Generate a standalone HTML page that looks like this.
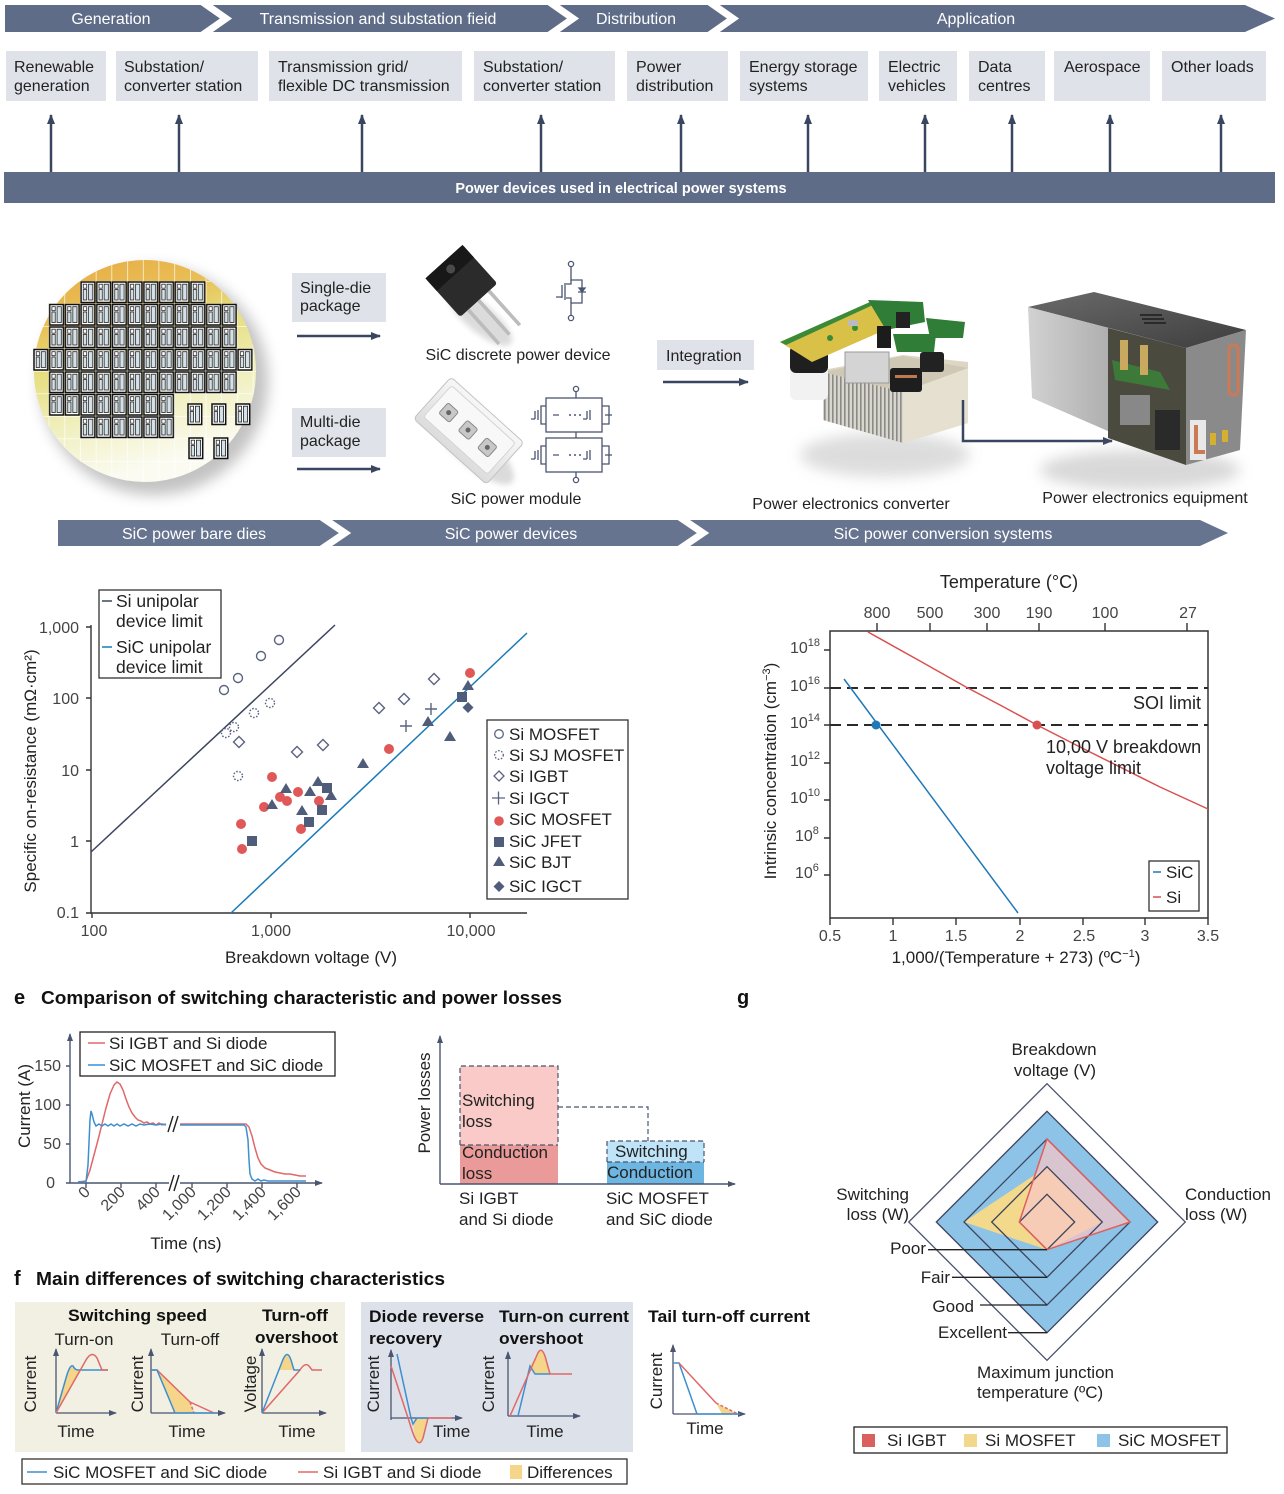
<!DOCTYPE html>
<html><head><meta charset="utf-8">
<style>
html,body{margin:0;padding:0;background:#fff;width:1284px;height:1494px;overflow:hidden}
svg{display:block}
text{font-family:"Liberation Sans",sans-serif;}
</style></head><body>
<svg width="1284" height="1494" viewBox="0 0 1284 1494" xmlns="http://www.w3.org/2000/svg">
<defs>
<marker id="ah" markerUnits="userSpaceOnUse" markerWidth="10" markerHeight="10" refX="9" refY="5" orient="auto"><path d="M0,1 L10,5 L0,9 z" fill="#3a4660"/></marker>
<marker id="as" markerUnits="userSpaceOnUse" markerWidth="8" markerHeight="8" refX="7" refY="4" orient="auto"><path d="M0,1 L8,4 L0,7 z" fill="#4a5570"/></marker>
<filter id="blur6" x="-30%" y="-30%" width="160%" height="160%"><feGaussianBlur stdDeviation="7"/></filter>
<filter id="blur3" x="-30%" y="-30%" width="160%" height="160%"><feGaussianBlur stdDeviation="3"/></filter>
<linearGradient id="wg" x1="0" y1="0" x2="0.3" y2="1">
 <stop offset="0" stop-color="#e7a843"/>
 <stop offset="0.28" stop-color="#e9bf55"/>
 <stop offset="0.45" stop-color="#e5dc78"/>
 <stop offset="0.7" stop-color="#efeeb8"/>
 <stop offset="1" stop-color="#fbfbf2"/>
</linearGradient>
<linearGradient id="eqL" x1="0" y1="0" x2="1" y2="0">
 <stop offset="0" stop-color="#d2d2d2"/><stop offset="1" stop-color="#8e8e8e"/>
</linearGradient>
<linearGradient id="eqT" x1="0" y1="0" x2="1" y2="1">
 <stop offset="0" stop-color="#6a6a6a"/><stop offset="1" stop-color="#3e3e3e"/>
</linearGradient>
<linearGradient id="modG" x1="0" y1="0" x2="0" y2="1">
 <stop offset="0" stop-color="#f7f7f7"/><stop offset="1" stop-color="#dcdcdc"/>
</linearGradient>
<clipPath id="wc"><circle cx="145" cy="371" r="111"/></clipPath>
<pattern id="gridp" x="33" y="281" width="15.7" height="22.5" patternUnits="userSpaceOnUse"><path d="M0,0 H15.7 M0,0 V22.5" stroke="#fff" stroke-width="1.3" fill="none"/></pattern>
<g id="die">
 <rect x="1" y="1" width="13.7" height="20.5" fill="#fff" stroke="#111" stroke-width="1.5"/>
 <rect x="3.2" y="3.2" width="3.4" height="4" fill="#fff" stroke="#222" stroke-width="0.8"/>
 <rect x="3.2" y="8.5" width="3.4" height="10.5" fill="#d3e2e8" stroke="#222" stroke-width="0.8"/>
 <rect x="8.4" y="3.2" width="4.2" height="15.8" fill="#d3e2e8" stroke="#222" stroke-width="0.8"/>
</g>
<pattern id="diep" x="33" y="281" width="15.7" height="22.5" patternUnits="userSpaceOnUse"><use href="#die"/></pattern>
<pattern id="fins" x="0" y="0" width="4" height="10" patternUnits="userSpaceOnUse"><rect width="4" height="10" fill="#d9d6cf"/><rect width="1.6" height="10" fill="#8c8a86"/></pattern>
</defs>

<!-- ========== TOP BANNER ========== -->
<polygon points="5,5 1245,5 1275,18.5 1245,32 5,32" fill="#5e6c88"/>
<polyline points="201,1 226,18.5 201,36" fill="none" stroke="#fff" stroke-width="7"/>
<polyline points="548,1 573,18.5 548,36" fill="none" stroke="#fff" stroke-width="7"/>
<polyline points="708,1 733,18.5 708,36" fill="none" stroke="#fff" stroke-width="7"/>
<g fill="#fff" font-size="16" text-anchor="middle">
<text x="111" y="24">Generation</text>
<text x="378" y="24">Transmission and substation fieid</text>
<text x="636" y="24">Distribution</text>
<text x="976" y="24">Application</text>
</g>

<g fill="#dfe2e9">
<rect x="6" y="51" width="100" height="50"/>
<rect x="116" y="51" width="142" height="50"/>
<rect x="269" y="51" width="193" height="50"/>
<rect x="474" y="51" width="141" height="50"/>
<rect x="627" y="51" width="101" height="50"/>
<rect x="740" y="51" width="128" height="50"/>
<rect x="879" y="51" width="78" height="50"/>
<rect x="969" y="51" width="76" height="50"/>
<rect x="1054" y="51" width="96" height="50"/>
<rect x="1162" y="51" width="104" height="50"/>
</g>
<g fill="#222" font-size="16">
<text x="14" y="72">Renewable</text><text x="14" y="91">generation</text>
<text x="124" y="72">Substation/</text><text x="124" y="91">converter station</text>
<text x="278" y="72">Transmission grid/</text><text x="278" y="91">flexible DC transmission</text>
<text x="483" y="72">Substation/</text><text x="483" y="91">converter station</text>
<text x="636" y="72">Power</text><text x="636" y="91">distribution</text>
<text x="749" y="72">Energy storage</text><text x="749" y="91">systems</text>
<text x="888" y="72">Electric</text><text x="888" y="91">vehicles</text>
<text x="978" y="72">Data</text><text x="978" y="91">centres</text>
<text x="1064" y="72">Aerospace</text>
<text x="1171" y="72">Other loads</text>
</g>
<g stroke="#3a4660" stroke-width="2.5" marker-end="url(#ah)">
<line x1="51" y1="172" x2="51" y2="115"/>
<line x1="179" y1="172" x2="179" y2="115"/>
<line x1="362" y1="172" x2="362" y2="115"/>
<line x1="541" y1="172" x2="541" y2="115"/>
<line x1="681" y1="172" x2="681" y2="115"/>
<line x1="808" y1="172" x2="808" y2="115"/>
<line x1="925" y1="172" x2="925" y2="115"/>
<line x1="1012" y1="172" x2="1012" y2="115"/>
<line x1="1110" y1="172" x2="1110" y2="115"/>
<line x1="1221" y1="172" x2="1221" y2="115"/>
</g>
<rect x="4" y="172" width="1271" height="31" fill="#5e6c88"/>
<text x="621" y="193" fill="#fff" font-size="14.5" font-weight="bold" text-anchor="middle">Power devices used in electrical power systems</text>

<!-- ========== MIDDLE: WAFER ========== -->
<circle cx="154" cy="381" r="114" fill="#7a7a7a" opacity="0.45" filter="url(#blur6)"/>
<circle cx="145" cy="371" r="111" fill="url(#wg)"/>
<rect x="30" y="258" width="232" height="230" fill="url(#gridp)" clip-path="url(#wc)"/>
<g fill="url(#diep)">
<rect x="80.1" y="281" width="125.6" height="22.5"/>
<rect x="48.7" y="303.5" width="188.4" height="22.5"/>
<rect x="48.7" y="326" width="188.4" height="22.5"/>
<rect x="33" y="348.5" width="219.8" height="22.5"/>
<rect x="48.7" y="371" width="188.4" height="22.5"/>
<rect x="48.7" y="393.5" width="125.6" height="22.5"/>
<rect x="80.1" y="416" width="94.2" height="22.5"/>
</g>
<use href="#die" x="187" y="403"/><use href="#die" x="211" y="403"/><use href="#die" x="235" y="403"/>
<use href="#die" x="188" y="437"/><use href="#die" x="213" y="437"/>

<!-- package boxes -->
<rect x="292" y="273" width="94" height="49" fill="#dfe2e9"/>
<text x="300" y="293" font-size="16" fill="#222">Single-die</text>
<text x="300" y="311" font-size="16" fill="#222">package</text>
<line x1="297" y1="336" x2="380" y2="336" stroke="#3a4660" stroke-width="2.5" marker-end="url(#ah)"/>
<rect x="292" y="408" width="94" height="49" fill="#dfe2e9"/>
<text x="300" y="427" font-size="16" fill="#222">Multi-die</text>
<text x="300" y="446" font-size="16" fill="#222">package</text>
<line x1="297" y1="469" x2="380" y2="469" stroke="#3a4660" stroke-width="2.5" marker-end="url(#ah)"/>

<!-- discrete device -->
<ellipse cx="480" cy="318" rx="40" ry="14" fill="#999" opacity="0.35" filter="url(#blur3)" transform="rotate(40 480 318)"/>
<g transform="rotate(-42 470 292)">
 <rect x="446" y="252" width="50" height="52" rx="3" fill="#2b2b2b"/>
 <rect x="446" y="252" width="50" height="17" fill="#181818"/>
 <circle cx="471" cy="262" r="4.5" fill="#4a4a4a"/>
 <rect x="455" y="304" width="3.6" height="46" fill="#bcbcbc"/>
 <rect x="469" y="304" width="3.6" height="46" fill="#bcbcbc"/>
 <rect x="483" y="304" width="3.6" height="46" fill="#bcbcbc"/>
</g>
<!-- discrete circuit symbol -->
<g stroke="#4a5570" stroke-width="1.3" fill="none">
 <circle cx="571" cy="264" r="2.6" fill="#fff"/>
 <circle cx="571" cy="318" r="2.6" fill="#fff"/>
 <path d="M571,267 V280 H582 V303 H571 V315"/>
 <path d="M571,280 V284 H566 M571,303 V298 H566 M565,283 V300 M562,285 V298 M556,297 H562"/>
 <path d="M578,292 H586 M582,292 L579,288 H585 Z" fill="#4a5570"/>
</g>
<text x="518" y="360" font-size="16" text-anchor="middle" fill="#222">SiC discrete power device</text>

<!-- power module -->
<ellipse cx="472" cy="446" rx="54" ry="18" fill="#999" opacity="0.35" filter="url(#blur3)" transform="rotate(42 472 446)"/>
<g transform="rotate(42 468 430)">
 <rect x="420" y="402" width="98" height="56" rx="4" fill="url(#modG)" stroke="#c2c2c2"/>
 <rect x="426" y="408" width="86" height="42" rx="3" fill="#f8f8f8" stroke="#d4d4d4"/>
 <rect x="435" y="423" width="14" height="14" rx="2" fill="#c8c8c8" stroke="#8a8a8a"/>
 <rect x="461" y="423" width="14" height="14" rx="2" fill="#c8c8c8" stroke="#8a8a8a"/>
 <rect x="487" y="423" width="14" height="14" rx="2" fill="#c8c8c8" stroke="#8a8a8a"/>
 <circle cx="442" cy="430" r="2.5" fill="#666"/><circle cx="468" cy="430" r="2.5" fill="#666"/><circle cx="494" cy="430" r="2.5" fill="#666"/>
</g>
<!-- module circuit -->
<g stroke="#4a5570" stroke-width="1.3" fill="none">
 <circle cx="576" cy="389" r="2.6" fill="#fff"/>
 <circle cx="576" cy="480" r="2.6" fill="#fff"/>
 <path d="M576,392 V398 M576,432 V438 M576,472 V477"/>
 <rect x="546" y="398" width="56" height="34"/>
 <rect x="546" y="438" width="56" height="34"/>
 <path d="M546,406 H541 V424 H546 M602,406 H609 V424 H602 M546,446 H541 V464 H546 M602,446 H609 V464 H602"/>
 <path d="M538,410 V420 M535,411 V419 M531,419 H535 M590,410 V420 M587,411 V419 M583,419 H587 M538,450 V460 M535,451 V459 M531,459 H535 M590,450 V460 M587,451 V459 M583,459 H587"/>
 <path d="M553,415 H559 M605,415 H612 M553,455 H559 M605,455 H612"/>
</g>
<g fill="#4a5570"><circle cx="570" cy="415" r="1"/><circle cx="575" cy="415" r="1"/><circle cx="580" cy="415" r="1"/><circle cx="570" cy="455" r="1"/><circle cx="575" cy="455" r="1"/><circle cx="580" cy="455" r="1"/></g>
<text x="516" y="504" font-size="16" text-anchor="middle" fill="#222">SiC power module</text>

<!-- integration -->
<rect x="657" y="340" width="97" height="30" fill="#dfe2e9"/>
<text x="666" y="361" font-size="16" fill="#222">Integration</text>
<line x1="663" y1="382" x2="748" y2="382" stroke="#3a4660" stroke-width="2.5" marker-end="url(#ah)"/>

<!-- converter -->
<ellipse cx="885" cy="455" rx="85" ry="22" fill="#aaa" opacity="0.4" filter="url(#blur6)"/>
<polygon points="823,370 903,355 968,362 968,423 903,443 823,420" fill="#ddd6c4"/>
<polygon points="823,372 903,392 903,443 823,420" fill="url(#fins)"/>
<polygon points="903,392 968,368 968,423 903,443" fill="#e6e0d0"/>
<polygon points="823,372 903,392 968,368 903,356" fill="#cfc8b4"/>
<rect x="790" y="345" width="38" height="55" rx="6" fill="#f2f2f2"/>
<rect x="790" y="345" width="38" height="28" rx="6" fill="#1f1f1f"/>
<rect x="845" y="352" width="44" height="31" fill="#d4d4d4" stroke="#9a9a9a"/>
<rect x="890" y="368" width="32" height="24" rx="3" fill="#1e1e1e"/>
<rect x="920" y="352" width="24" height="20" rx="3" fill="#222"/>
<rect x="895" y="375" width="22" height="3" fill="#c07850"/>
<polygon points="780,342 870,302 905,312 903,322 812,362" fill="#d9c046"/>
<polygon points="780,342 870,302 875,304 786,345" fill="#3a8a3a"/>
<polygon points="868,300 923,302 925,322 886,330" fill="#2f7d36"/>
<polygon points="926,318 965,322 963,338 930,338" fill="#2f7d36"/>
<polygon points="893,334 936,334 934,352 897,352" fill="#2f7d36"/>
<rect x="877" y="326" width="14" height="22" fill="#1c1c1c"/>
<rect x="896" y="312" width="14" height="16" fill="#222"/>
<circle cx="830" cy="338" r="3" fill="#3a8a3a"/><circle cx="855" cy="328" r="3" fill="#3a8a3a"/>
<rect x="848" y="320" width="10" height="6" fill="#bbb"/>
<path d="M963,400 V441 H1112" fill="none" stroke="#3a4660" stroke-width="2.5" marker-end="url(#ah)"/>
<text x="851" y="509" font-size="16" text-anchor="middle" fill="#222">Power electronics converter</text>

<!-- equipment -->
<ellipse cx="1140" cy="470" rx="100" ry="20" fill="#aaa" opacity="0.45" filter="url(#blur6)"/>
<polygon points="1028,307 1094,292 1246,330 1186,348" fill="url(#eqT)"/>
<polygon points="1028,307 1186,348 1186,465 1032,398" fill="url(#eqL)"/>
<polygon points="1108,328 1186,348 1186,465 1108,438" fill="#4a4a3e"/>
<polygon points="1112,360 1160,372 1170,390 1115,380" fill="#3d7a3a"/>
<rect x="1120" y="340" width="8" height="30" fill="#c9a860"/><rect x="1140" y="345" width="8" height="30" fill="#c9a860"/>
<rect x="1120" y="395" width="30" height="30" fill="#888"/>
<rect x="1155" y="410" width="25" height="40" fill="#2a2a2a"/>
<polygon points="1186,348 1246,330 1240,450 1186,465" fill="#8a8a8a"/>
<rect x="1229" y="345" width="9" height="50" rx="4" fill="none" stroke="#cc7a55" stroke-width="3"/>
<rect x="1190" y="420" width="16" height="40" fill="#e8e8e8"/>
<path d="M1196,425 V452 H1205" stroke="#cc7a55" stroke-width="4" fill="none"/>
<rect x="1210" y="433" width="6" height="12" fill="#d4b030"/><rect x="1222" y="430" width="6" height="12" fill="#d4b030"/>
<g fill="#2a2a2a"><rect x="1140" y="314" width="22" height="2"/><rect x="1142" y="318" width="22" height="2"/><rect x="1144" y="322" width="22" height="2"/></g>
<text x="1145" y="503" font-size="16" text-anchor="middle" fill="#222">Power electronics equipment</text>

<!-- bottom banner of middle -->
<polygon points="58,520 1200,520 1228,533 1200,546 58,546" fill="#67748f"/>
<polyline points="320,516 345,533 320,550" fill="none" stroke="#fff" stroke-width="7"/>
<polyline points="678,516 703,533 678,550" fill="none" stroke="#fff" stroke-width="7"/>
<g fill="#fff" font-size="16" text-anchor="middle">
<text x="194" y="539">SiC power bare dies</text>
<text x="511" y="539">SiC power devices</text>
<text x="943" y="539">SiC power conversion systems</text>
</g>

<!-- ========== CHART C ========== -->
<g stroke="#333" stroke-width="1.4" fill="none">
<path d="M91,625 V913 H527"/>
<path d="M86,627 H91 M86,698 H91 M86,770 H91 M86,841 H91 M86,913 H91"/>
<path d="M92,913 V918 M271,913 V918 M470,913 V918"/>
</g>
<g font-size="16" fill="#444" text-anchor="end">
<text x="79" y="633">1,000</text>
<text x="79" y="704">100</text>
<text x="79" y="776">10</text>
<text x="79" y="847">1</text>
<text x="79" y="918">0.1</text>
</g>
<g font-size="16" fill="#444" text-anchor="middle">
<text x="94" y="936">100</text>
<text x="271" y="936">1,000</text>
<text x="471" y="936">10,000</text>
</g>
<text x="311" y="963" font-size="17" fill="#222" text-anchor="middle">Breakdown voltage (V)</text>
<text transform="translate(36,771) rotate(-90)" font-size="17" fill="#222" text-anchor="middle">Specific on-resistance (mΩ·cm²)</text>
<line x1="91" y1="852" x2="335" y2="625" stroke="#3d4660" stroke-width="1.5"/>
<line x1="231" y1="913" x2="527" y2="633" stroke="#1a7ab8" stroke-width="1.5"/>
<!-- markers -->
<g fill="#fff" stroke="#5a6480" stroke-width="1.4">
<circle cx="224" cy="690" r="4.5"/><circle cx="238" cy="678" r="4.5"/><circle cx="261" cy="656" r="4.5"/><circle cx="279" cy="640" r="4.5"/>
</g>
<g fill="#fff" stroke="#5a6480" stroke-width="1.4" stroke-dasharray="1.6 1.6">
<circle cx="226" cy="733" r="4.5"/><circle cx="234" cy="727" r="4.5"/><circle cx="254" cy="713" r="4.5"/><circle cx="270" cy="703" r="4.5"/><circle cx="238" cy="776" r="4.5"/>
</g>
<g fill="#fff" stroke="#5a6480" stroke-width="1.4">
<path d="M239,736.5 l5.5,5.5 -5.5,5.5 -5.5,-5.5z"/>
<path d="M297,746.5 l5.5,5.5 -5.5,5.5 -5.5,-5.5z"/>
<path d="M323,739.5 l5.5,5.5 -5.5,5.5 -5.5,-5.5z"/>
<path d="M379,702.5 l5.5,5.5 -5.5,5.5 -5.5,-5.5z"/>
<path d="M404,693.5 l5.5,5.5 -5.5,5.5 -5.5,-5.5z"/>
<path d="M434,673.5 l5.5,5.5 -5.5,5.5 -5.5,-5.5z"/>
</g>
<g stroke="#5a6480" stroke-width="1.4">
<path d="M400,726 h12 M406,720 v12"/>
<path d="M425,709 h12 M431,703 v12"/>
</g>
<g fill="#e05858">
<circle cx="470" cy="673" r="5"/><circle cx="389" cy="749" r="5"/><circle cx="272" cy="777" r="5"/><circle cx="264" cy="807" r="5"/><circle cx="241" cy="824" r="5"/><circle cx="242" cy="849" r="5"/><circle cx="280" cy="797" r="5"/><circle cx="287" cy="801" r="5"/><circle cx="298" cy="792" r="5"/><circle cx="301" cy="829" r="5"/><circle cx="319" cy="801" r="5"/>
</g>
<g fill="#4f5c7a">
<rect x="247" y="836" width="10" height="10"/><rect x="304" y="817" width="10" height="10"/><rect x="317" y="805" width="10" height="10"/><rect x="322" y="783" width="10" height="10"/><rect x="457" y="692" width="10" height="10"/>
<path d="M272,799 l6,10 h-12z"/><path d="M286,783 l6,10 h-12z"/><path d="M302,805 l6,10 h-12z"/><path d="M310,786 l6,10 h-12z"/><path d="M318,776 l6,10 h-12z"/><path d="M331,790 l6,10 h-12z"/><path d="M363,758 l6,10 h-12z"/><path d="M428,716 l6,10 h-12z"/><path d="M450,731 l6,10 h-12z"/><path d="M468,680 l6,10 h-12z"/>
<path d="M468,702 l5.5,5.5 -5.5,5.5 -5.5,-5.5z"/>
</g>
<!-- legend 1 -->
<rect x="99" y="590" width="122" height="88" fill="#fff" stroke="#333" stroke-width="1.3"/>
<line x1="102" y1="601" x2="112" y2="601" stroke="#3d4660" stroke-width="1.5"/>
<line x1="102" y1="647" x2="112" y2="647" stroke="#1a7ab8" stroke-width="1.5"/>
<g font-size="17.5" fill="#222">
<text x="116" y="607">Si unipolar</text><text x="116" y="627">device limit</text>
<text x="116" y="653">SiC unipolar</text><text x="116" y="673">device limit</text>
</g>
<!-- legend 2 -->
<rect x="487" y="720" width="141" height="179" fill="#fff" stroke="#333" stroke-width="1.3"/>
<circle cx="499" cy="734" r="4.3" fill="#fff" stroke="#5a6480" stroke-width="1.3"/>
<circle cx="499" cy="755" r="4.3" fill="#fff" stroke="#5a6480" stroke-width="1.3" stroke-dasharray="1.6 1.6"/>
<path d="M499,771 l5,5 -5,5 -5,-5z" fill="#fff" stroke="#5a6480" stroke-width="1.3"/>
<path d="M492,798 h13 M498.5,791.5 v13" stroke="#5a6480" stroke-width="1.3"/>
<circle cx="499" cy="821" r="4.8" fill="#e05858"/>
<rect x="494" y="837" width="10" height="10" fill="#4f5c7a"/>
<path d="M499,856 l6,10 h-12z" fill="#4f5c7a"/>
<path d="M499,881 l5.5,5.5 -5.5,5.5 -5.5,-5.5z" fill="#4f5c7a"/>
<g font-size="17" fill="#222">
<text x="509" y="740">Si MOSFET</text>
<text x="509" y="761">Si SJ MOSFET</text>
<text x="509" y="782">Si IGBT</text>
<text x="509" y="804">Si IGCT</text>
<text x="509" y="825">SiC MOSFET</text>
<text x="509" y="847">SiC JFET</text>
<text x="509" y="868">SiC BJT</text>
<text x="509" y="892">SiC IGCT</text>
</g>

<!-- ========== CHART D ========== -->
<text x="1009" y="588" font-size="18" fill="#222" text-anchor="middle">Temperature (°C)</text>
<rect x="830" y="631" width="378" height="287" fill="none" stroke="#333" stroke-width="1.5"/>
<g stroke="#333" stroke-width="1.4">
<path d="M824,650 H830 M824,688 H830 M824,725 H830 M824,763 H830 M824,800 H830 M824,838 H830 M824,875 H830"/>
<path d="M877,623 V631 M930,623 V631 M987,623 V631 M1039,623 V631 M1105,623 V631 M1187,623 V631"/>
<path d="M830,918 V925 M893,918 V925 M956,918 V925 M1020,918 V925 M1083,918 V925 M1145,918 V925 M1208,918 V925"/>
</g>
<g font-size="16" fill="#444" text-anchor="middle">
<text x="877" y="618">800</text><text x="930" y="618">500</text><text x="987" y="618">300</text><text x="1039" y="618">190</text><text x="1105" y="618">100</text><text x="1188" y="618">27</text>
<text x="830" y="941">0.5</text><text x="893" y="941">1</text><text x="956" y="941">1.5</text><text x="1020" y="941">2</text><text x="1084" y="941">2.5</text><text x="1145" y="941">3</text><text x="1208" y="941">3.5</text>
</g>
<g font-size="16" fill="#444">
<text x="790" y="653">10<tspan font-size="11" dy="-7">18</tspan></text>
<text x="790" y="691">10<tspan font-size="11" dy="-7">16</tspan></text>
<text x="790" y="728">10<tspan font-size="11" dy="-7">14</tspan></text>
<text x="790" y="766">10<tspan font-size="11" dy="-7">12</tspan></text>
<text x="790" y="803">10<tspan font-size="11" dy="-7">10</tspan></text>
<text x="795" y="841">10<tspan font-size="11" dy="-7">8</tspan></text>
<text x="795" y="878">10<tspan font-size="11" dy="-7">6</tspan></text>
</g>
<text transform="translate(776,771) rotate(-90)" font-size="17" fill="#222" text-anchor="middle">Intrinsic concentration (cm<tspan font-size="11" dy="-6">−3</tspan><tspan dy="6">)</tspan></text>
<text x="1016" y="963" font-size="17" fill="#222" text-anchor="middle">1,000/(Temperature + 273) (ºC<tspan font-size="11" dy="-6">−1</tspan><tspan dy="6">)</tspan></text>
<g stroke="#2a2a2a" stroke-width="2" stroke-dasharray="11 6">
<line x1="830" y1="688" x2="1208" y2="688"/>
<line x1="830" y1="725" x2="1208" y2="725"/>
</g>
<polyline points="868,632 920,661 966,687 1000,705 1037,725 1080,747 1120,767 1160,787 1208,809" fill="none" stroke="#d95050" stroke-width="1.5"/>
<line x1="844" y1="679" x2="1018" y2="913" stroke="#1f78b8" stroke-width="1.5"/>
<circle cx="1037" cy="725" r="4.5" fill="#d95050"/>
<circle cx="876" cy="725" r="4.5" fill="#1f78b8"/>
<g font-size="18" fill="#222">
<text x="1201" y="709" text-anchor="end">SOI limit</text>
<text x="1046" y="753">10,00 V breakdown</text>
<text x="1046" y="774">voltage limit</text>
</g>
<rect x="1149" y="861" width="50" height="50" fill="#fff" stroke="#333" stroke-width="1.3"/>
<line x1="1153" y1="872" x2="1161" y2="872" stroke="#1f78b8" stroke-width="1.5"/>
<line x1="1153" y1="897" x2="1161" y2="897" stroke="#d95050" stroke-width="1.5"/>
<text x="1166" y="878" font-size="17" fill="#222">SiC</text>
<text x="1166" y="903" font-size="17" fill="#222">Si</text>

<!-- ========== SECTION E ========== -->
<text x="14" y="1004" font-size="20" font-weight="bold" fill="#111">e</text>
<text x="41" y="1004" font-size="18" font-weight="bold" fill="#111" textLength="521" lengthAdjust="spacingAndGlyphs">Comparison of switching characteristic and power losses</text>
<text x="737" y="1004" font-size="20" font-weight="bold" fill="#111">g</text>

<!-- e1 -->
<g stroke="#4a5570" stroke-width="1.4" fill="none">
<line x1="70" y1="1183" x2="70" y2="1034" marker-end="url(#as)"/>
<line x1="70" y1="1183" x2="169" y2="1183"/>
<line x1="180" y1="1183" x2="322" y2="1183" marker-end="url(#as)"/>
<path d="M66,1066 H70 M66,1105 H70 M66,1144 H70 M66,1183 H70"/>
<path d="M86,1183 V1188 M121,1183 V1188 M156,1183 V1188 M192,1183 V1188 M227,1183 V1188 M262,1183 V1188 M297,1183 V1188"/>
</g>
<g stroke="#222" stroke-width="1.4">
<path d="M169,1191 L174,1175 M174,1191 L179,1175"/>
<path d="M168,1132 L173,1116 M173,1132 L178,1116"/>
</g>
<g font-size="16" fill="#444" text-anchor="end">
<text x="61" y="1071">150</text><text x="61" y="1110">100</text><text x="61" y="1149">50</text><text x="55" y="1188">0</text>
</g>
<g font-size="16" fill="#444" text-anchor="end">
<text transform="translate(91,1193) rotate(-45)">0</text>
<text transform="translate(126,1193) rotate(-45)">200</text>
<text transform="translate(161,1193) rotate(-45)">400</text>
<text transform="translate(197,1193) rotate(-45)">1,000</text>
<text transform="translate(232,1193) rotate(-45)">1,200</text>
<text transform="translate(267,1193) rotate(-45)">1,400</text>
<text transform="translate(302,1193) rotate(-45)">1,600</text>
</g>
<text x="186" y="1249" font-size="17" fill="#222" text-anchor="middle">Time (ns)</text>
<text transform="translate(30,1106) rotate(-90)" font-size="17" fill="#222" text-anchor="middle">Current (A)</text>
<polyline fill="none" stroke="#e06868" stroke-width="1.5" points="78,1182 86,1181 90,1170 94,1155 98,1140 102,1124 106,1108 110,1094 114,1085 117,1082 120,1084 123,1090 126,1099 129,1107 132,1113 135,1117 138,1120 141,1121 144,1123 147,1122 150,1124 153,1123 156,1125 159,1123 162,1125 166,1124"/>
<polyline fill="none" stroke="#e06868" stroke-width="1.5" points="180,1124 246,1124 249,1127 252,1136 255,1148 258,1158 261,1164 265,1168 270,1170 275,1172 280,1173 285,1174 290,1174 295,1175 300,1176 306,1176"/>
<polyline fill="none" stroke="#3d8fd0" stroke-width="1.5" points="78,1182 86,1182 88,1165 90,1120 91,1111 92,1114 94,1122 96,1126 99,1124 102,1126 105,1124 108,1126 111,1124 114,1126 117,1124 120,1126 124,1124 128,1126 132,1124 136,1126 140,1124 144,1125 150,1124 156,1125 162,1124 166,1125"/>
<polyline fill="none" stroke="#3d8fd0" stroke-width="1.5" points="180,1125 244,1125 246,1127 248,1140 249,1160 250,1174 252,1179 255,1181 258,1179 261,1181 264,1180 268,1181 306,1181"/>
<rect x="80" y="1032" width="255" height="44" fill="#fff" stroke="#222" stroke-width="1.3"/>
<line x1="88" y1="1043" x2="105" y2="1043" stroke="#e06868" stroke-width="1.5"/>
<line x1="88" y1="1065" x2="105" y2="1065" stroke="#3d8fd0" stroke-width="1.5"/>
<text x="109" y="1049" font-size="17" fill="#222">Si IGBT and Si diode</text>
<text x="109" y="1071" font-size="17" fill="#222">SiC MOSFET and SiC diode</text>

<!-- e2 -->
<rect x="460" y="1066" width="98" height="79" fill="#f9cac7"/>
<rect x="460" y="1145" width="98" height="39" fill="#ea9b99"/>
<rect x="607" y="1141" width="97" height="21" fill="#bfe4f7"/>
<rect x="607" y="1162" width="97" height="22" fill="#6eb6e2"/>
<g stroke="#4a5570" stroke-width="1.2" fill="none" stroke-dasharray="5 3">
<path d="M460,1145 V1066 H558 V1145 M460,1145 H558"/>
<path d="M607,1162 V1141 H704 V1162 M607,1162 H704"/>
<path d="M558,1107 H648 V1141"/>
</g>
<g stroke="#4a5570" stroke-width="1.4" fill="none">
<line x1="440" y1="1184" x2="440" y2="1036" marker-end="url(#as)"/>
<line x1="440" y1="1184" x2="735" y2="1184" marker-end="url(#as)"/>
</g>
<g font-size="17" fill="#222">
<text x="462" y="1106">Switching</text><text x="462" y="1127">loss</text>
<text x="462" y="1158">Conduction</text><text x="462" y="1179">loss</text>
<text x="615" y="1157">Switching</text><text x="607" y="1178">Conduction</text>
<text x="459" y="1204">Si IGBT</text><text x="459" y="1225">and Si diode</text>
<text x="606" y="1204">SiC MOSFET</text><text x="606" y="1225">and SiC diode</text>
</g>
<text transform="translate(430,1103) rotate(-90)" font-size="17" fill="#222" text-anchor="middle">Power losses</text>

<!-- ========== SECTION F ========== -->
<text x="14" y="1285" font-size="20" font-weight="bold" fill="#111">f</text>
<text x="36" y="1285" font-size="18" font-weight="bold" fill="#111" textLength="409" lengthAdjust="spacingAndGlyphs">Main differences of switching characteristics</text>
<rect x="15" y="1302" width="330" height="150" fill="#f2f0e3"/>
<rect x="361" y="1302" width="272" height="150" fill="#dde1ea"/>
<g font-size="17" font-weight="bold" fill="#111">
<text x="68" y="1321" textLength="139" lengthAdjust="spacingAndGlyphs">Switching speed</text>
<text x="262" y="1321" textLength="66" lengthAdjust="spacingAndGlyphs">Turn-off</text>
<text x="255" y="1343" textLength="83" lengthAdjust="spacingAndGlyphs">overshoot</text>
<text x="369" y="1322" textLength="115" lengthAdjust="spacingAndGlyphs">Diode reverse</text>
<text x="369" y="1344" textLength="73" lengthAdjust="spacingAndGlyphs">recovery</text>
<text x="499" y="1322" textLength="130" lengthAdjust="spacingAndGlyphs">Turn-on current</text>
<text x="499" y="1344" textLength="84" lengthAdjust="spacingAndGlyphs">overshoot</text>
<text x="648" y="1322" textLength="162" lengthAdjust="spacingAndGlyphs">Tail turn-off current</text>
</g>
<g font-size="17" fill="#222">
<text x="84" y="1345" text-anchor="middle">Turn-on</text>
<text x="190" y="1345" text-anchor="middle">Turn-off</text>
<text x="76" y="1437" text-anchor="middle">Time</text>
<text x="187" y="1437" text-anchor="middle">Time</text>
<text x="297" y="1437" text-anchor="middle">Time</text>
<text x="433" y="1437">Time</text>
<text x="545" y="1437" text-anchor="middle">Time</text>
<text x="705" y="1434" text-anchor="middle">Time</text>
<text transform="translate(36,1384) rotate(-90)" text-anchor="middle">Current</text>
<text transform="translate(143,1384) rotate(-90)" text-anchor="middle">Current</text>
<text transform="translate(256,1384) rotate(-90)" text-anchor="middle">Voltage</text>
<text transform="translate(379,1384) rotate(-90)" text-anchor="middle">Current</text>
<text transform="translate(494,1384) rotate(-90)" text-anchor="middle">Current</text>
<text transform="translate(662,1381) rotate(-90)" text-anchor="middle">Current</text>
</g>
<!-- yellow fills -->
<g fill="#f4d58a">
<path d="M56,1413 L66,1378 Q70,1364 73,1366 Q75,1370 78,1370 L80.3,1370 Z"/>
<path d="M157,1370 L190,1402 L194,1413 L175,1413 Z"/>
<path d="M279,1370 L282,1362 Q287,1348 291,1360 L294,1370 Z"/>
<path d="M413,1423 L417,1418 L428,1418 L423,1438 Q419,1450 415,1438 Z"/>
<path d="M530,1366 L537,1355 Q541,1345 545,1356 L550,1374 L535,1374 Z"/>
<path d="M716,1403 L738,1414 L722,1414 Z"/>
</g>
<!-- axes -->
<g stroke="#4a5570" stroke-width="1.3" fill="none">
<line x1="56" y1="1413" x2="56" y2="1349" marker-end="url(#as)"/><line x1="56" y1="1413" x2="116" y2="1413" marker-end="url(#as)"/>
<line x1="151" y1="1413" x2="151" y2="1349" marker-end="url(#as)"/><line x1="151" y1="1413" x2="225" y2="1413" marker-end="url(#as)"/>
<line x1="262" y1="1413" x2="262" y2="1349" marker-end="url(#as)"/><line x1="262" y1="1413" x2="326" y2="1413" marker-end="url(#as)"/>
<line x1="391" y1="1420" x2="391" y2="1350" marker-end="url(#as)"/><line x1="391" y1="1418" x2="462" y2="1418" marker-end="url(#as)"/>
<line x1="508" y1="1416" x2="508" y2="1352" marker-end="url(#as)"/><line x1="508" y1="1416" x2="580" y2="1416" marker-end="url(#as)"/>
<line x1="673" y1="1414" x2="673" y2="1345" marker-end="url(#as)"/><line x1="673" y1="1414" x2="745" y2="1414" marker-end="url(#as)"/>
</g>
<!-- curves -->
<g fill="none" stroke-width="1.5">
<path stroke="#3d8fd0" d="M56,1413 L66,1378 Q70,1364 73,1366 Q75,1370 78,1370 L108,1370"/>
<path stroke="#e06868" d="M56,1413 L86,1360 Q92,1350 97,1358 L102,1370 L108,1370"/>
<path stroke="#e06868" d="M151,1370 L157,1370 L190,1402 L214,1413"/>
<path stroke="#e06868" stroke-dasharray="3 2" d="M190,1402 L194,1413"/>
<path stroke="#3d8fd0" d="M151,1370 L157,1370 L175,1413 L215,1413"/>
<path stroke="#e06868" d="M262,1413 L300,1370 Q305,1362 309,1366 L312,1370 L322,1370"/>
<path stroke="#3d8fd0" d="M262,1413 L282,1362 Q287,1348 291,1360 L294,1370 L300,1370"/>
<path stroke="#e06868" d="M391,1366 L410,1424 Q418,1452 423,1438 L428,1418 L452,1418"/>
<path stroke="#3d8fd0" d="M397,1354 L411,1418 L413,1424 L417,1418 L428,1418"/>
<path stroke="#3d8fd0" d="M518,1416 L530,1366 L535,1374 L550,1374"/>
<path stroke="#e06868" d="M510,1416 L537,1355 Q541,1345 545,1356 L550,1374 L572,1374"/>
<path stroke="#3d8fd0" d="M673,1363 L679,1363 L697,1414 L740,1414"/>
<path stroke="#e06868" d="M679,1363 L716,1403"/>
<path stroke="#e06868" stroke-dasharray="3 2" d="M716,1403 L738,1414"/>
</g>
<!-- f legend -->
<rect x="22" y="1459" width="605" height="25" fill="#fff" stroke="#333" stroke-width="1.3"/>
<line x1="27" y1="1472" x2="47" y2="1472" stroke="#3d8fd0" stroke-width="1.5"/>
<line x1="298" y1="1472" x2="318" y2="1472" stroke="#e06868" stroke-width="1.5"/>
<rect x="510" y="1465" width="12" height="14" fill="#f4d58a"/>
<g font-size="17" fill="#222">
<text x="53" y="1478">SiC MOSFET and SiC diode</text>
<text x="323" y="1478">Si IGBT and Si diode</text>
<text x="527" y="1478">Differences</text>
</g>

<!-- ========== SECTION G RADAR ========== -->
<polygon points="1047,1083.7 1185.3,1222 1047,1360.3 908.7,1222" fill="#fff" stroke="#4a5570" stroke-width="1.3"/>
<polygon points="1047,1111.3 1157.7,1222 1047,1332.7 936.3,1222" fill="#8dc3e6" stroke="#3d4560" stroke-width="1.3"/>
<polygon points="1047,1166.7 1102.3,1222 1047,1249.7 964,1222" fill="#f3d98c"/>
<polygon points="1047,1139 1130,1222 1047,1249.7 1019.3,1222" fill="#f7c6c6" fill-opacity="0.72"/>
<g fill="none" stroke="#3d4560" stroke-width="1.3">
<polygon points="1047,1194.3 1074.7,1222 1047,1249.7 1019.3,1222"/>
<polygon points="1047,1166.7 1102.3,1222 1047,1277.3 991.7,1222"/>
<polygon points="1047,1139 1130,1222 1047,1305 964,1222"/>
</g>
<polygon points="1047,1139 1130,1222 1047,1249.7 1019.3,1222" fill="none" stroke="#e06060" stroke-width="1.5"/>
<g stroke="#222" stroke-width="1.3">
<line x1="928" y1="1249.7" x2="1047" y2="1249.7"/>
<line x1="952" y1="1277.3" x2="1047" y2="1277.3"/>
<line x1="980" y1="1305" x2="1047" y2="1305"/>
<line x1="1008" y1="1332.7" x2="1047" y2="1332.7"/>
</g>
<g font-size="17" fill="#222">
<text x="926" y="1254" text-anchor="end">Poor</text>
<text x="950" y="1283" text-anchor="end">Fair</text>
<text x="974" y="1312" text-anchor="end">Good</text>
<text x="1007" y="1338" text-anchor="end">Excellent</text>
<text x="1054" y="1055" text-anchor="middle">Breakdown</text>
<text x="1055" y="1076" text-anchor="middle">voltage (V)</text>
<text x="909" y="1200" text-anchor="end">Switching</text>
<text x="909" y="1220" text-anchor="end">loss (W)</text>
<text x="1185" y="1200">Conduction</text>
<text x="1185" y="1220">loss (W)</text>
<text x="977" y="1378">Maximum junction</text>
<text x="977" y="1398">temperature (ºC)</text>
</g>
<rect x="854" y="1427" width="373" height="26" fill="#fff" stroke="#222" stroke-width="1.3"/>
<rect x="862" y="1434" width="13" height="13" fill="#d9605f"/>
<rect x="964" y="1434" width="13" height="13" fill="#f2d88c"/>
<rect x="1097" y="1434" width="13" height="13" fill="#8dc3e6"/>
<g font-size="17" fill="#222">
<text x="887" y="1446">Si IGBT</text>
<text x="985" y="1446">Si MOSFET</text>
<text x="1118" y="1446">SiC MOSFET</text>
</g>
</svg>
</body></html>
